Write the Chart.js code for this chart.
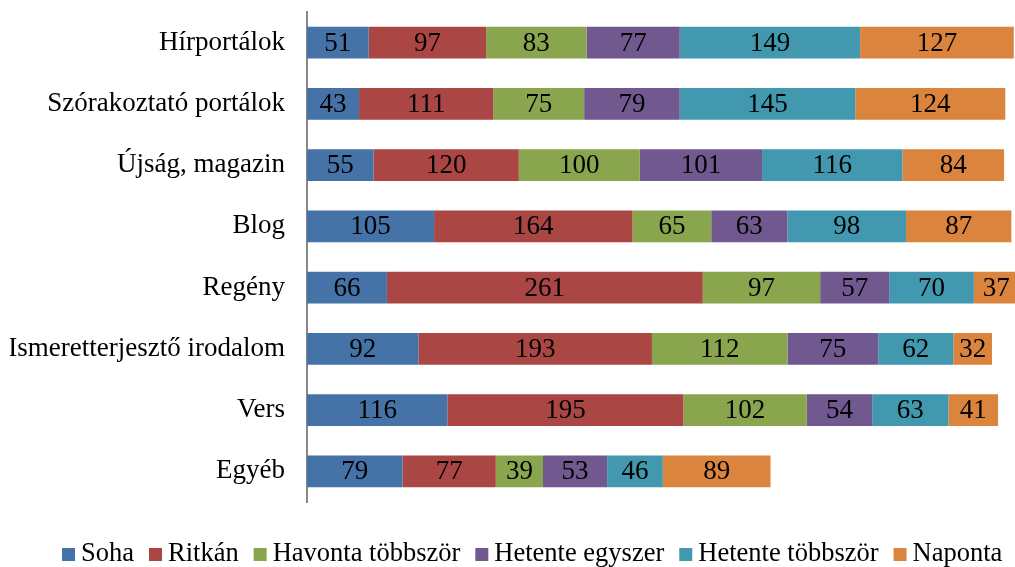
<!DOCTYPE html>
<html><head><meta charset="utf-8">
<script src="https://cdn.jsdelivr.net/npm/chart.js@4/dist/chart.umd.min.js"></script>
<style>html,body{margin:0;padding:0;background:#fff}#wrap{width:1015px;height:567px}</style>
</head><body><div id="wrap"><canvas id="c"></canvas></div>
<script>
const categories = ["Hírportálok","Szórakoztató portálok","Újság, magazin","Blog","Regény","Ismeretterjesztő irodalom","Vers","Egyéb"];
const seriesNames = ["Soha","Ritkán","Havonta többször","Hetente egyszer","Hetente többször","Naponta"];
const soha = [51,43,55,105,66,92,116,79];
const ritkan = [97,111,120,164,261,193,195,77];
const havonta = [83,75,100,65,97,112,102,39];
const hetenteEgyszer = [77,79,101,63,57,75,54,53];
const hetenteTobbszor = [149,145,116,98,70,62,63,46];
const naponta = [127,124,84,87,37,32,41,89];
const colors = ["#4572A7","#AA4643","#89A54E","#71588F","#4198AF","#DB843D"];
const values = [soha,ritkan,havonta,hetenteEgyszer,hetenteTobbszor,naponta];
const FONT = "'Liberation Serif','Times New Roman',serif";

const labelPlugin = {
  id:'barLabels',
  afterDatasetsDraw(chart){
    const ctx = chart.ctx;
    ctx.save();
    ctx.font = "27px " + FONT;
    ctx.fillStyle = "#000";
    ctx.textAlign = "center";
    ctx.textBaseline = "middle";
    chart.data.datasets.forEach((ds,i)=>{
      const meta = chart.getDatasetMeta(i);
      meta.data.forEach((bar,j)=>{
        ctx.fillText(String(ds.data[j]), (bar.base+bar.x)/2, bar.y+1);
      });
    });
    ctx.restore();
  }
};

const legendPlugin = {
  id:'customLegend',
  afterDraw(chart){
    const ctx = chart.ctx;
    ctx.save();
    ctx.font = "26.5px " + FONT;
    ctx.textBaseline = "middle";
    ctx.textAlign = "left";
    const box = 13, gap = 6, spacing = 15, cy = 554;
    let x = 62;
    chart.data.datasets.forEach(ds=>{
      ctx.fillStyle = ds.backgroundColor;
      ctx.fillRect(x, cy - 6, box, box);
      x += box + gap;
      ctx.fillStyle = "#000";
      ctx.fillText(ds.label, x, cy);
      x += ctx.measureText(ds.label).width + spacing;
    });
    ctx.restore();
  }
};

new Chart(document.getElementById('c'),{
  type:'bar',
  data:{
    labels:categories,
    datasets:seriesNames.map((n,i)=>({label:n,data:values[i],backgroundColor:colors[i],borderWidth:0,barPercentage:0.52,categoryPercentage:1.0}))
  },
  options:{
    indexAxis:'y',
    responsive:true,maintainAspectRatio:false,animation:false,
    layout:{padding:{top:12,left:10,right:0,bottom:65}},
    scales:{
      x:{stacked:true,display:false,min:0,max:585},
      y:{stacked:true,grid:{display:false,drawTicks:false},border:{display:true,color:'#888',width:2},
         ticks:{color:'#000',font:{family:FONT,size:27},padding:22},
         afterFit(s){s.width=297;s.paddingTop=0;s.paddingBottom=0;}}
    },
    plugins:{
      legend:{display:false},
      tooltip:{enabled:false}
    }
  },
  plugins:[labelPlugin,legendPlugin]
});
</script></body></html>
